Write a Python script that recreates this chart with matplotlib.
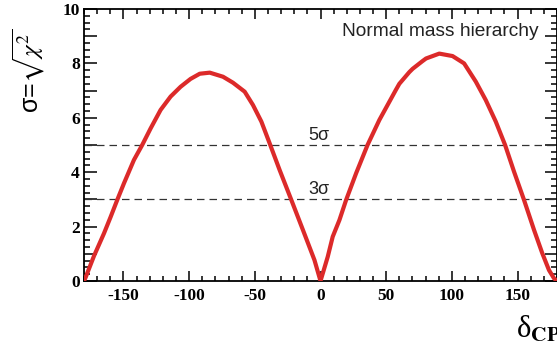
import numpy as np
import matplotlib
matplotlib.use('Agg')
import matplotlib.pyplot as plt
from matplotlib.ticker import MultipleLocator, FuncFormatter

plt.rcParams['mathtext.fontset'] = 'stix'
plt.rcParams['axes.unicode_minus'] = False

# sensitivity curve (delta_CP in degrees, sigma)
delta_cp = [-180, -178.7, -172.4, -164.8, -159.7, -154.7, -149.6, -142, -135.7,
            -129.3, -121.7, -114.1, -106.5, -98.9, -91.9, -84.3, -74.2, -66.6,
            -57.7, -51.4, -45, -38.7, -31.1, -22.2, -13.4, -4.6, 0,
            5.5, 9.3, 14.4, 19.5, 27.1, 35.8, 44.8, 57.3, 60, 67.6, 70.1, 77.5,
            80.3, 90.4, 100.5, 109.3, 118.2, 125.8, 133.4, 140.5, 147.3,
            154.9, 162.5, 168.8, 173.9, 177.7, 180]
sigma = [0.0, 0.14, 0.92, 1.75, 2.36, 2.98, 3.59, 4.45, 5.0,
         5.61, 6.29, 6.78, 7.14, 7.43, 7.62, 7.66, 7.51, 7.29,
         6.96, 6.47, 5.86, 5.06, 4.08, 2.98, 1.88, 0.77, 0.0,
         0.89, 1.63, 2.24, 2.98, 3.96, 5.0, 5.92, 7.02, 7.25, 7.68, 7.8, 8.08,
         8.18, 8.36, 8.27, 8.0, 7.33, 6.65, 5.86, 5.0, 4.02,
         2.98, 1.88, 1.02, 0.4, 0.1, 0.0]

cl_levels = [5, 3]
cl_labels = ['5σ', '3σ']

fig = plt.figure(figsize=(5.57, 3.56), dpi=100)
ax = fig.add_axes([84/557, 75/356, 473/557, 272/356])

ax.plot(delta_cp, sigma, color='#dc2a2a', lw=3.0, solid_joinstyle='round',
        solid_capstyle='round', zorder=3)

for lev, lab in zip(cl_levels, cl_labels):
    ax.axhline(lev, color='#333333', lw=0.9, ls=(0, (6, 4)), zorder=2)
    ax.text(-9, lev + 0.19, lab, fontsize=13, family='Liberation Sans',
            color='#222222', ha='left', va='baseline')

ax.text(440/557, 1 - 31/356, 'Normal mass hierarchy', transform=fig.transFigure,
        fontsize=13.8, family='Liberation Sans', color='#222222',
        ha='center', va='center')

ax.set_xlim(-180, 180)
ax.set_ylim(0, 10)

ax.xaxis.set_major_locator(MultipleLocator(50))
ax.xaxis.set_minor_locator(MultipleLocator(10))
ax.yaxis.set_major_locator(MultipleLocator(1))
ax.yaxis.set_minor_locator(MultipleLocator(0.25))
ax.yaxis.set_major_formatter(FuncFormatter(lambda v, p: '%d' % v if int(round(v)) % 2 == 0 else ''))

ax.tick_params(which='both', direction='in', top=True, right=True, width=1.1)
ax.tick_params(axis='x', which='major', length=7, pad=5)
ax.tick_params(axis='x', which='minor', length=3.5)
ax.tick_params(axis='y', which='major', length=9, pad=3)
ax.tick_params(axis='y', which='minor', length=4.5)
for lab in ax.get_xticklabels() + ax.get_yticklabels():
    lab.set_family('Liberation Serif')
    lab.set_fontweight('bold')
    lab.set_fontsize(12.5)
for s in ax.spines.values():
    s.set_linewidth(1.3)

fig.text(29/557, 1 - 71/356, r'σ=$\sqrt{\chi^2}$', rotation=90,
         fontsize=18, family='Liberation Sans', ha='center', va='center')
fig.text(516/557, 1 - 329/356, r'δ$_{\mathbf{CP}}$', fontsize=22,
         family='Liberation Serif', ha='left', va='center')

fig.savefig('out.png', dpi=100)
